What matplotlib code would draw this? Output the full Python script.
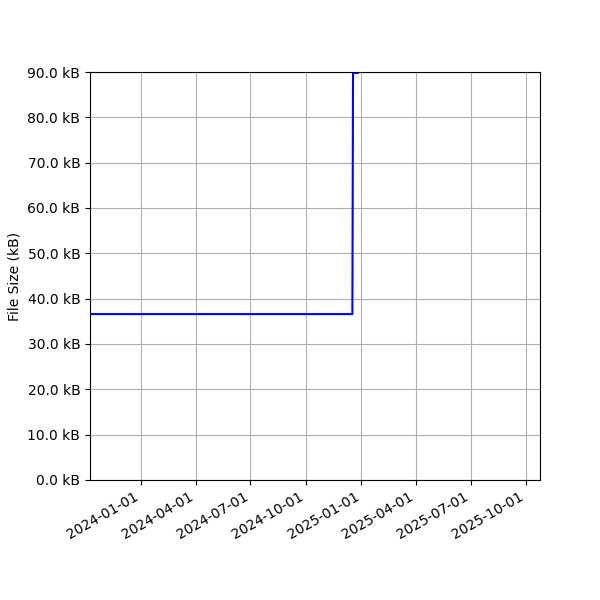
import matplotlib
matplotlib.use("Agg")
import matplotlib.pyplot as plt
import matplotlib.dates as mdates
from matplotlib.ticker import FuncFormatter
from datetime import datetime

# file size history (kB)
dates = [datetime(2023, 10, 9), datetime(2024, 12, 17), datetime(2024, 12, 18), datetime(2024, 12, 26)]
sizes = [36.6, 36.6, 89.8, 89.8]

fig, ax = plt.subplots(figsize=(6, 6), dpi=100)
ax.plot(dates, sizes, color="blue")
ax.set_ylabel("File Size (kB)")
ax.yaxis.set_major_formatter(FuncFormatter(lambda v, p: "%.1f kB" % v))
ax.set_ylim(0, 90)
ax.set_xlim(datetime(2023, 10, 9), datetime(2025, 10, 24))
ax.xaxis.set_major_locator(mdates.MonthLocator(bymonth=[1, 4, 7, 10]))
ax.xaxis.set_major_formatter(mdates.DateFormatter("%Y-%m-%d"))
ax.grid(True)
fig.autofmt_xdate()
fig.subplots_adjust(left=0.15)
fig.savefig("out.png")
